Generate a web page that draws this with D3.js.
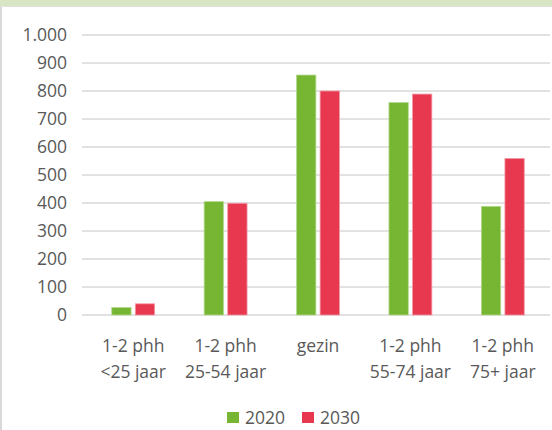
<!DOCTYPE html>
<html>
<head>
<meta charset="utf-8">
<script src="https://cdn.jsdelivr.net/npm/d3@7"></script>
<style>
  body { margin: 0; background: #fff; }
  text { font-family: "Open Sans", sans-serif; fill: #595959; }
</style>
</head>
<body>
<svg id="chart" width="552" height="430"></svg>
<script>
// categories (two-line labels) and series
var categories = [
  ['1-2 phh', '<25 jaar'],
  ['1-2 phh', '25-54 jaar'],
  ['gezin'],
  ['1-2 phh', '55-74 jaar'],
  ['1-2 phh', '75+ jaar']
]
var seriesNames = ['2020', '2030']
var values2020 = [27, 405, 857, 759, 388]
var values2030 = [40, 399, 800, 789, 559]
var yTicks = [0, 100, 200, 300, 400, 500, 600, 700, 800, 900, 1000]
var colors = ['#76b632', '#e8384f']
var edgeColors = ['#b5d98f', '#f29aa6']

var svg = d3.select('#chart')
var width = 552
var height = 430

// frame: green top band and grey left border
svg.append('rect').attr('x', 0).attr('y', 0).attr('width', width).attr('height', 6).attr('fill', '#d9e6c4')
svg.append('line').attr('x1', 0).attr('x2', width).attr('y1', 6.5).attr('y2', 6.5).attr('stroke', '#e0e0e0')
svg.append('rect').attr('x', 0).attr('y', 7).attr('width', 2).attr('height', height).attr('fill', '#d9d9d9')

var y = d3.scaleLinear().domain([0, 1000]).range([315, 35])
var x = d3.scaleBand().domain(d3.range(categories.length)).range([87, 549])
var inner = d3.scaleBand().domain(seriesNames).range([0, x.bandwidth()]).paddingOuter(1.05).paddingInner(0.18)

// gridlines
svg.append('g')
  .selectAll('line')
  .data(yTicks)
  .enter()
  .append('line')
  .attr('x1', 82)
  .attr('x2', 550)
  .attr('y1', (d) => y(d))
  .attr('y2', (d) => y(d))
  .attr('stroke', '#d9d9d9')
  .attr('stroke-width', 1.5)

// y axis labels
svg.append('g')
  .selectAll('text')
  .data(yTicks)
  .enter()
  .append('text')
  .attr('x', 67)
  .attr('y', (d) => y(d))
  .attr('dy', '0.36em')
  .attr('text-anchor', 'end')
  .style('font-size', '17.5px')
  .text((d) => d3.format(',')(d).replace(',', '.'))

// bars
var rows = []
categories.forEach(function (c, i) {
  rows.push({ i: i, s: '2020', v: values2020[i], k: 0 })
  rows.push({ i: i, s: '2030', v: values2030[i], k: 1 })
})

svg.append('g')
  .selectAll('rect')
  .data(rows)
  .enter()
  .append('rect')
  .attr('x', (d) => x(d.i) + inner(d.s))
  .attr('y', (d) => y(d.v))
  .attr('width', inner.bandwidth())
  .attr('height', (d) => y(0) - y(d.v))
  .attr('fill', (d) => colors[d.k])
  .attr('stroke', (d) => edgeColors[d.k])
  .attr('stroke-width', 0.8)

// category labels
var cat = svg.append('g')
  .selectAll('text')
  .data(categories)
  .enter()
  .append('text')
  .attr('text-anchor', 'middle')
  .style('font-size', '17.5px')

cat.selectAll('tspan')
  .data((d, i) => d.map((t) => ({ t: t, i: i })))
  .enter()
  .append('tspan')
  .attr('x', (d) => x(d.i) + x.bandwidth() / 2)
  .attr('y', (d, j) => 352 + j * 26)
  .text((d) => d.t)

// legend
var legendX = [227, 302]
var legend = svg.append('g')
  .selectAll('g')
  .data(seriesNames)
  .enter()
  .append('g')
  .attr('transform', (d, i) => 'translate(' + legendX[i] + ',0)')

legend.append('rect')
  .attr('x', 0)
  .attr('y', 412)
  .attr('width', 12)
  .attr('height', 11)
  .attr('fill', (d, i) => colors[i])

legend.append('text')
  .attr('x', 18)
  .attr('y', 424)
  .style('font-size', '17.5px')
  .text((d) => d)
</script>
</body>
</html>
